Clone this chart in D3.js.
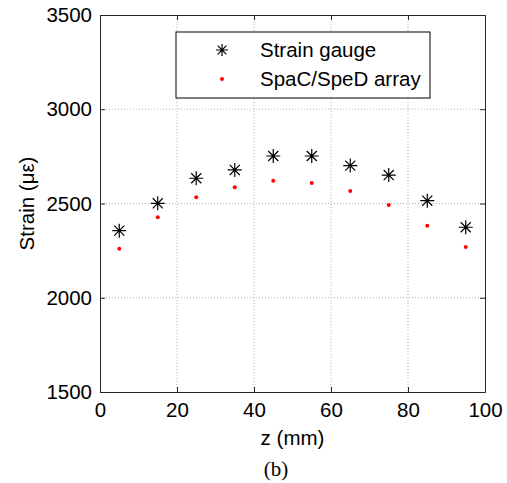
<!doctype html>
<html>
  <head>
    <script src="https://cdn.jsdelivr.net/npm/d3@7"></script>
    <style>
    body { margin: 0; background: #fff; }
    text { font-family: "Liberation Sans", Arial, sans-serif; fill: #000; }
    text.caption { font-family: "Liberation Serif", "DejaVu Serif", serif; }
    .grid line { stroke: #b0b0b0; stroke-dasharray: 1,2; }
    .axis path, .axis line { stroke: #262626; }
    </style>
  </head>
  <body>
    <svg width="507" height="483"></svg>
    <script>
      var zPos = [5, 15, 25, 35, 45, 55, 65, 75, 85, 95];
      var gaugeStrain = [2356, 2501, 2634, 2678, 2752, 2752, 2701, 2651, 2515, 2374];
      var arrayStrain = [2260, 2427, 2533, 2586, 2621, 2609, 2566, 2492, 2382, 2269];
      var xTicks = [0, 20, 40, 60, 80, 100];
      var yTicks = [1500, 2000, 2500, 3000, 3500];
      var seriesNames = ["Strain gauge", "SpaC/SpeD array"];

      var svg = d3.select("svg");
      var pLeft = 100, pRight = 485, pTop = 15, pBottom = 392;
      var fs = 20.5;

      var x = d3.scaleLinear().domain([0, 100]).range([pLeft, pRight]);
      var y = d3.scaleLinear().domain([1500, 3500]).range([pBottom, pTop]);

      // dotted grid
      var grid = svg.append("g").attr("class", "grid");
      grid.selectAll("line.gx")
        .data(xTicks.slice(1, -1))
        .enter().append("line")
          .attr("class", "gx")
          .attr("x1", d => x(d)).attr("x2", d => x(d))
          .attr("y1", pTop).attr("y2", pBottom);
      grid.selectAll("line.gy")
        .data(yTicks.slice(1, -1))
        .enter().append("line")
          .attr("class", "gy")
          .attr("x1", pLeft).attr("x2", pRight)
          .attr("y1", d => y(d)).attr("y2", d => y(d));

      // axes (ticks inward, box on all sides)
      var font = "Liberation Sans, Arial, sans-serif";
      svg.append("g").attr("class", "axis")
        .attr("transform", `translate(0,${pBottom})`)
        .call(d3.axisBottom(x).tickValues(xTicks).tickSizeInner(-5).tickSizeOuter(0).tickPadding(10))
        .call(g => g.selectAll("text").attr("font-size", fs).attr("font-family", font).attr("fill", "#000"));
      svg.append("g").attr("class", "axis")
        .attr("transform", `translate(${pLeft},0)`)
        .call(d3.axisLeft(y).tickValues(yTicks).tickSizeInner(-5).tickSizeOuter(0).tickPadding(8).tickFormat(d3.format("d")))
        .call(g => g.selectAll("text").attr("font-size", fs).attr("font-family", font).attr("fill", "#000"));
      svg.append("g").attr("class", "axis")
        .attr("transform", `translate(0,${pTop})`)
        .call(d3.axisTop(x).tickValues(xTicks).tickSizeInner(-5).tickSizeOuter(0).tickFormat(""));
      svg.append("g").attr("class", "axis")
        .attr("transform", `translate(${pRight},0)`)
        .call(d3.axisRight(y).tickValues(yTicks).tickSizeInner(-5).tickSizeOuter(0).tickFormat(""));

      function star(g, cx, cy, r) {
        var d = r * 0.72;
        var s = `M${cx - r},${cy}H${cx + r}M${cx},${cy - r}V${cy + r}` +
          `M${cx - d},${cy - d}L${cx + d},${cy + d}M${cx - d},${cy + d}L${cx + d},${cy - d}`;
        g.append("path").attr("d", s).attr("stroke", "#000").attr("stroke-width", 1.2).attr("fill", "none");
      }

      var pts = zPos.map((z, i) => ({ z: z, g: gaugeStrain[i], a: arrayStrain[i] }));
      var gMarks = svg.append("g");
      pts.forEach(p => star(gMarks, x(p.z), y(p.g), 7));
      svg.append("g").selectAll("circle")
        .data(pts)
        .enter().append("circle")
          .attr("cx", d => x(d.z))
          .attr("cy", d => y(d.a))
          .attr("r", 2)
          .attr("fill", "#ff0000");

      // legend
      var lg = svg.append("g");
      lg.append("rect")
        .attr("x", 176).attr("y", 32).attr("width", 254).attr("height", 66)
        .attr("fill", "#fff").attr("stroke", "#000").attr("stroke-width", 1);
      star(lg, 222, 50, 6);
      lg.append("circle").attr("cx", 222).attr("cy", 79).attr("r", 2).attr("fill", "#ff0000");
      lg.selectAll("text.lt")
        .data(seriesNames)
        .enter().append("text")
          .attr("class", "lt")
          .attr("x", 260)
          .attr("y", (d, i) => 50 + i * 29)
          .attr("dy", "0.35em")
          .attr("font-size", fs)
          .text(d => d);

      // labels
      svg.append("text")
        .attr("x", x(50)).attr("y", 445)
        .attr("text-anchor", "middle").attr("font-size", fs)
        .text("z (mm)");
      svg.append("text")
        .attr("transform", `translate(34,${y(2500)}) rotate(-90)`)
        .attr("text-anchor", "middle").attr("font-size", fs)
        .text("Strain (\u03bc\u03b5)");
      svg.append("text")
        .attr("class", "caption")
        .attr("x", 276).attr("y", 476)
        .attr("text-anchor", "middle").attr("font-size", 21)
        .text("(b)");
    </script>
  </body>
</html>
